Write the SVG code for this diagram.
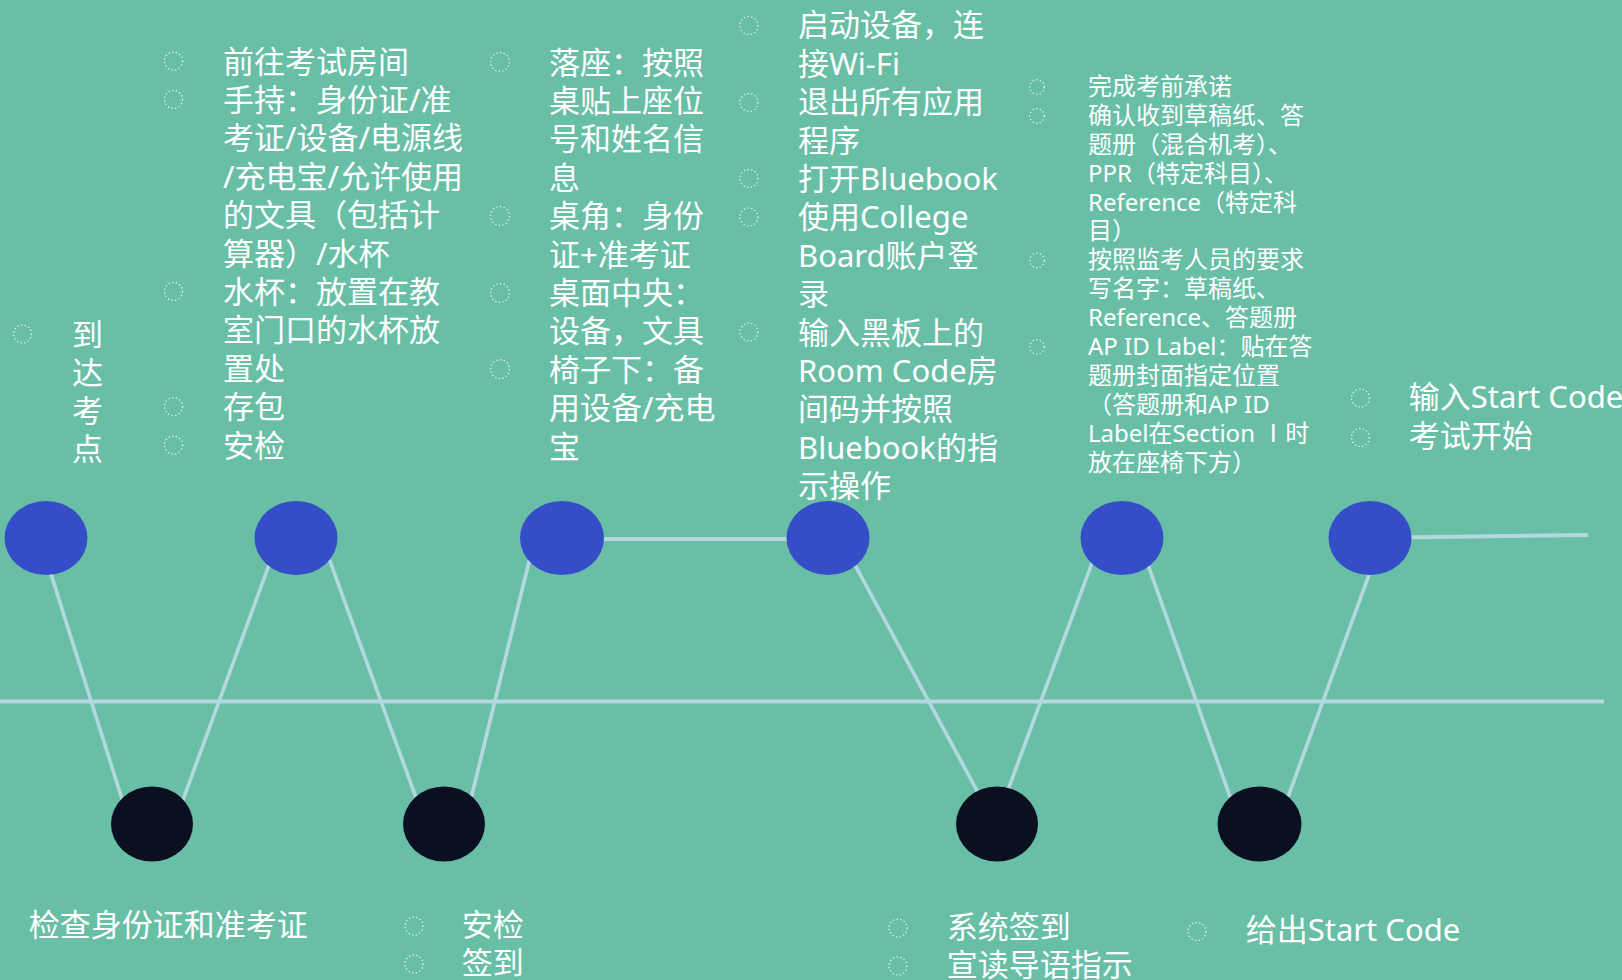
<svg xmlns="http://www.w3.org/2000/svg" width="1622" height="980" viewBox="0 0 1622 980">
<style>
.top{fill:#354DC6}
.bot{fill:#0B0F22}
.ln{stroke:#B3D8E0;stroke-width:3.6;fill:none}
.t{fill:#FFFFFF;font-family:"Noto Sans","Noto Sans CJK SC",sans-serif;font-size:31px}
.s{font-size:24px}
.b{fill:none;stroke:#E6F4EE;stroke-width:1.3;stroke-dasharray:1.3 2.4}
</style>
<rect x="0" y="0" width="1622" height="980" fill="#69BFA6"/>
<g id="connectors">
<line class="ln" x1="0" y1="701.5" x2="1604" y2="701.5" style="stroke-width:4"/>
<line class="ln" x1="47.7" y1="563.6" x2="124.9" y2="808.1"/>
<line class="ln" x1="179.9" y1="808.3" x2="273.1" y2="553.7"/>
<line class="ln" x1="325.4" y1="548.7" x2="419.9" y2="808.3"/>
<line class="ln" x1="469" y1="806.7" x2="531.9" y2="550"/>
<line class="ln" x1="590" y1="539" x2="800" y2="539" style="stroke-width:4.2"/>
<line class="ln" x1="849.3" y1="554.4" x2="982.4" y2="800.6"/>
<line class="ln" x1="1004.5" y1="799.3" x2="1096.2" y2="551.7"/>
<line class="ln" x1="1144.7" y1="555.4" x2="1234" y2="808"/>
<line class="ln" x1="1284.6" y1="806.3" x2="1373.1" y2="563.7"/>
<line class="ln" x1="1400" y1="537.4" x2="1588" y2="535" style="stroke-width:4"/>
</g>
<g id="n1">
<ellipse class="top" cx="46" cy="538" rx="41.5" ry="37"/>
<circle class="b" cx="22.5" cy="334" r="9"/>
<text class="t"><tspan x="72" y="345.5">到</tspan><tspan x="72" y="383.8">达</tspan><tspan x="72" y="422.1">考</tspan><tspan x="72" y="460.4">点</tspan></text>
</g>
<g id="n2">
<ellipse class="top" cx="296" cy="538" rx="41.5" ry="37"/>
<circle class="b" cx="173.5" cy="61" r="9"/>
<circle class="b" cx="173.5" cy="99.4" r="9"/>
<circle class="b" cx="173.5" cy="291.4" r="9"/>
<circle class="b" cx="173.5" cy="406.6" r="9"/>
<circle class="b" cx="173.5" cy="445" r="9"/>
<text class="t">
<tspan x="223" y="72.5">前往考试房间</tspan>
<tspan x="223" y="110.9">手持：身份证/准</tspan>
<tspan x="223" y="149.3">考证/设备/电源线</tspan>
<tspan x="223" y="187.7">/充电宝/允许使用</tspan>
<tspan x="223" y="226.1">的文具（包括计</tspan>
<tspan x="223" y="264.5">算器）/水杯</tspan>
<tspan x="223" y="302.9">水杯：放置在教</tspan>
<tspan x="223" y="341.3">室门口的水杯放</tspan>
<tspan x="223" y="379.7">置处</tspan>
<tspan x="223" y="418.1">存包</tspan>
<tspan x="223" y="456.5">安检</tspan>
</text>
</g>
<g id="n3">
<ellipse class="top" cx="562" cy="538" rx="42" ry="37"/>
<circle class="b" cx="500" cy="62" r="9.5"/>
<circle class="b" cx="500" cy="216" r="9.5"/>
<circle class="b" cx="500" cy="293" r="9.5"/>
<circle class="b" cx="500" cy="369.2" r="9.5"/>
<text class="t">
<tspan x="549" y="73.5">落座：按照</tspan>
<tspan x="549" y="111.9">桌贴上座位</tspan>
<tspan x="549" y="150.3">号和姓名信</tspan>
<tspan x="549" y="188.7">息</tspan>
<tspan x="549" y="227.1">桌角：身份</tspan>
<tspan x="549" y="265.5">证+准考证</tspan>
<tspan x="549" y="303.9">桌面中央：</tspan>
<tspan x="549" y="342.3">设备，文具</tspan>
<tspan x="549" y="380.7">椅子下：备</tspan>
<tspan x="549" y="419.1">用设备/充电</tspan>
<tspan x="549" y="457.5">宝</tspan>
</text>
</g>
<g id="n4">
<ellipse class="top" cx="828" cy="538" rx="41.5" ry="37"/>
<circle class="b" cx="749" cy="25.5" r="9"/>
<circle class="b" cx="749" cy="102.5" r="9"/>
<circle class="b" cx="749" cy="178.4" r="9"/>
<circle class="b" cx="749" cy="217" r="9"/>
<circle class="b" cx="749" cy="332" r="9"/>
<text class="t">
<tspan x="798" y="36.3">启动设备，连</tspan>
<tspan x="798" y="74.7">接Wi-Fi</tspan>
<tspan x="798" y="113.1">退出所有应用</tspan>
<tspan x="798" y="151.5">程序</tspan>
<tspan x="798" y="189.9">打开Bluebook</tspan>
<tspan x="798" y="228.3">使用College</tspan>
<tspan x="798" y="266.7">Board账户登</tspan>
<tspan x="798" y="305.1">录</tspan>
<tspan x="798" y="343.5">输入黑板上的</tspan>
<tspan x="798" y="381.9">Room Code房</tspan>
<tspan x="798" y="420.3">间码并按照</tspan>
<tspan x="798" y="458.7">Bluebook的指</tspan>
<tspan x="798" y="497.1">示操作</tspan>
</text>
</g>
<g id="n5">
<ellipse class="top" cx="1122" cy="538" rx="41.5" ry="37"/>
<circle class="b" cx="1037" cy="87" r="7.3"/>
<circle class="b" cx="1037" cy="116" r="7.3"/>
<circle class="b" cx="1037" cy="260.5" r="7.3"/>
<circle class="b" cx="1037" cy="347" r="7.3"/>
<text class="t s">
<tspan x="1088" y="94.9">完成考前承诺</tspan>
<tspan x="1088" y="123.8">确认收到草稿纸、答</tspan>
<tspan x="1088" y="152.7">题册（混合机考）、</tspan>
<tspan x="1088" y="181.6">PPR（特定科目）、</tspan>
<tspan x="1088" y="210.5">Reference（特定科</tspan>
<tspan x="1088" y="239.4">目）</tspan>
<tspan x="1088" y="268.3">按照监考人员的要求</tspan>
<tspan x="1088" y="297.2">写名字：草稿纸、</tspan>
<tspan x="1088" y="326.1">Reference、答题册</tspan>
<tspan x="1088" y="355">AP ID Label：贴在答</tspan>
<tspan x="1088" y="383.9">题册封面指定位置</tspan>
<tspan x="1088" y="412.8">（答题册和AP ID</tspan>
<tspan x="1088" y="441.7">Label在Section Ⅰ时</tspan>
<tspan x="1088" y="470.6">放在座椅下方）</tspan>
</text>
</g>
<g id="n6">
<ellipse class="top" cx="1370" cy="538" rx="41.5" ry="37"/>
<circle class="b" cx="1360.5" cy="398" r="9"/>
<circle class="b" cx="1360.5" cy="437.5" r="9"/>
<text class="t">
<tspan x="1408.7" y="407.5">输入Start Code</tspan>
<tspan x="1408.7" y="446.5">考试开始</tspan>
</text>
</g>
<g id="m1">
<ellipse class="bot" cx="152" cy="824" rx="41" ry="37.5"/>
<text class="t" x="28.8" y="936">检查身份证和准考证</text>
</g>
<g id="m2">
<ellipse class="bot" cx="444" cy="824" rx="41" ry="37.5"/>
<circle class="b" cx="414" cy="926" r="9"/>
<circle class="b" cx="414" cy="964" r="9"/>
<text class="t"><tspan x="461.8" y="936">安检</tspan><tspan x="461.8" y="974.4">签到</tspan></text>
</g>
<g id="m3">
<ellipse class="bot" cx="997" cy="824" rx="41" ry="37.5"/>
<circle class="b" cx="898" cy="928" r="9"/>
<circle class="b" cx="898" cy="966" r="9"/>
<text class="t"><tspan x="946.8" y="937.5">系统签到</tspan><tspan x="946.8" y="975.9">宣读导语指示</tspan></text>
</g>
<g id="m4">
<ellipse class="bot" cx="1259.5" cy="824" rx="42" ry="37.5"/>
<circle class="b" cx="1197" cy="931.5" r="9"/>
<text class="t" x="1245.7" y="940.5">给出Start Code</text>
</g>
</svg>
